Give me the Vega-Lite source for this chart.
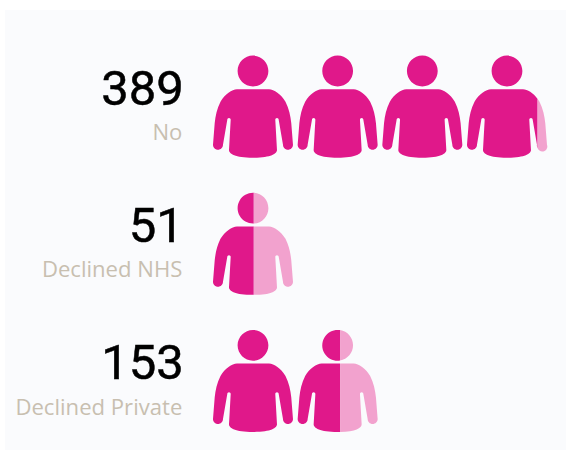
{"$schema":"https://vega.github.io/schema/vega-lite/v6.json","width":561,"height":440,"autosize":"none","padding":{"left":5,"top":10,"right":2,"bottom":1},"background":"#ffffff","config":{"view":{"fill":"#fafbfd","stroke":null}},"datasets":{"counts":[{"label":"No","count":389,"row":1},{"label":"Declined NHS","count":51,"row":2},{"label":"Declined Private","count":153,"row":3}],"icons":[{"label":"No","row":1,"icon":1,"part":"whole","state":"filled"},{"label":"No","row":1,"icon":2,"part":"whole","state":"filled"},{"label":"No","row":1,"icon":3,"part":"whole","state":"filled"},{"label":"No","row":1,"icon":4,"part":"left89","state":"filled"},{"label":"No","row":1,"icon":4,"part":"right89","state":"rest"},{"label":"Declined NHS","row":2,"icon":1,"part":"left51","state":"filled"},{"label":"Declined NHS","row":2,"icon":1,"part":"right51","state":"rest"},{"label":"Declined Private","row":3,"icon":1,"part":"whole","state":"filled"},{"label":"Declined Private","row":3,"icon":2,"part":"left53","state":"filled"},{"label":"Declined Private","row":3,"icon":2,"part":"right53","state":"rest"}]},"encoding":{"y":{"field":"row","type":"quantitative","scale":{"domain":[0.295,3.503],"reverse":true,"zero":false,"nice":false},"axis":null}},"layer":[{"data":{"name":"icons"},"mark":{"type":"point","filled":true,"opacity":1,"size":4,"strokeWidth":0},"encoding":{"x":{"field":"icon","type":"quantitative","scale":{"domain":[-1.929,4.697],"zero":false,"nice":false},"axis":null},"shape":{"field":"part","type":"nominal","legend":null,"scale":{"domain":["whole","left89","right89","left51","right51","left53","right53"],"range":["M-15.4,-35.7A15.4,15.4 0 1 1 15.4,-35.7A15.4,15.4 0 1 1 -15.4,-35.7ZM0,-17.4L-16,-17.4C-21,-17.4 -28,-12.5 -32.5,-5C-36,2 -37.5,9 -38.3,16.6L-40,38A5,5 0 0 0 -30,38L-25.7,13A1.7,1.7 0 0 1 -22.3,13L-24,43.3C-24,47 -18,51 0,51C18,51 24,47 24,43.3L22.3,13A1.7,1.7 0 0 1 25.7,13L30,38A5,5 0 0 0 40,38L38.3,16.6C37.5,9 36,2 32.5,-5C28,-12.5 21,-17.4 16,-17.4Z","M-15.4,-35.7A15.4,15.4 0 1 1 15.4,-35.7A15.4,15.4 0 1 1 -15.4,-35.7ZM0,-17.4L-16,-17.4C-21,-17.4 -28,-12.5 -32.5,-5C-36,2 -37.5,9 -38.3,16.6L-40,38A5,5 0 0 0 -30,38L-25.7,13A1.7,1.7 0 0 1 -22.3,13L-24,43.3C-24,47 -18,51 0,51C18,51 24,47 24,43.3L22.3,13A1.7,1.7 0 0 1 25.7,13L30,38A5,5 0 0 0 30.6,41.6L30.6,-7.8C26.2,-13.7 20.35,-17.4 16,-17.4Z","M30.6,-7.8C31.27,-6.93 31.9,-6 32.5,-5C36,2 37.5,9 38.3,16.6L40,38A5,5 0 0 1 30.6,41.6Z","M0.8,-51.08A15.4,15.4 0 1 0 0.8,-20.32ZM0.8,-17.4L-16,-17.4C-21,-17.4 -28,-12.5 -32.5,-5C-36,2 -37.5,9 -38.3,16.6L-40,38A5,5 0 0 0 -30,38L-25.7,13A1.7,1.7 0 0 1 -22.3,13L-24,43.3C-24,47 -18,51 0,51L0.8,51Z","M0.8,-51.08A15.4,15.4 0 0 1 0.8,-20.32ZM0.8,-17.4L0.8,51C18,51 24,47 24,43.3L22.3,13A1.7,1.7 0 0 1 25.7,13L30,38A5,5 0 0 0 40,38L38.3,16.6C37.5,9 36,2 32.5,-5C28,-12.5 21,-17.4 16,-17.4Z","M2.4,-50.91A15.4,15.4 0 1 0 2.4,-20.49ZM2.4,-17.4L-16,-17.4C-21,-17.4 -28,-12.5 -32.5,-5C-36,2 -37.5,9 -38.3,16.6L-40,38A5,5 0 0 0 -30,38L-25.7,13A1.7,1.7 0 0 1 -22.3,13L-24,43.3C-24,47 -18,51 0,51L2.4,51Z","M2.4,-50.91A15.4,15.4 0 0 1 2.4,-20.49ZM2.4,-17.4L2.4,51C18,51 24,47 24,43.3L22.3,13A1.7,1.7 0 0 1 25.7,13L30,38A5,5 0 0 0 40,38L38.3,16.6C37.5,9 36,2 32.5,-5C28,-12.5 21,-17.4 16,-17.4Z"]}},"color":{"field":"state","type":"nominal","legend":null,"scale":{"domain":["filled","rest"],"range":["#e0188a","#f2a2ce"]}},"detail":{"field":"label"}}},{"data":{"name":"counts"},"mark":{"type":"text","align":"right","baseline":"alphabetic","font":"Roboto","fontSize":49,"dx":15.5,"dy":-1.7,"color":"#000000","stroke":"#000000","strokeWidth":0.5},"encoding":{"x":{"datum":0,"type":"quantitative","scale":{"domain":[-1.929,4.697],"zero":false,"nice":false},"axis":null},"text":{"field":"count","type":"quantitative"}}},{"data":{"name":"counts"},"mark":{"type":"text","align":"right","baseline":"alphabetic","font":"Open Sans","fontSize":22.1,"dx":14,"dy":33.6,"color":"#c8bfb0"},"encoding":{"x":{"datum":0,"type":"quantitative","scale":{"domain":[-1.929,4.697],"zero":false,"nice":false},"axis":null},"text":{"field":"label","type":"nominal"}}}]}
